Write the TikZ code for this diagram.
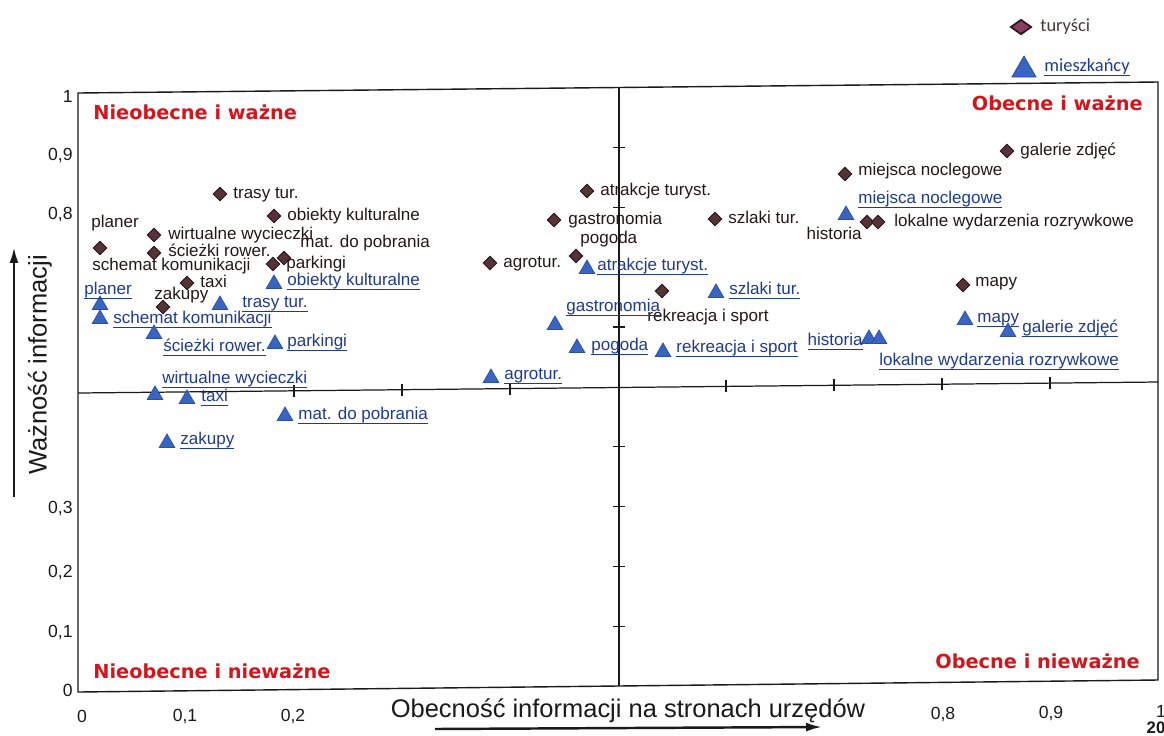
\documentclass[tikz,border=0pt]{standalone}
\usepackage{fontspec}
\setmainfont{Liberation Sans}
\newfontfamily\quadfont{DejaVu Sans}
\newfontfamily\legfont{Carlito}
\usetikzlibrary{shapes.geometric,arrows.meta,calc}

% underlined (link-style) label text
\newsavebox\ulbox
\newcommand\ulink[1]{\sbox\ulbox{#1}\rlap{\rule[-2.3pt]{\wd\ulbox}{0.5pt}}\usebox\ulbox}

\definecolor{turfill}{HTML}{553338}
\definecolor{turdraw}{HTML}{2A181C}
\definecolor{turtext}{HTML}{221818}
\definecolor{legfill}{HTML}{8A3D60}
\definecolor{miefill}{HTML}{3864C2}
\definecolor{miedraw}{HTML}{2A4EA0}
\definecolor{mietext}{HTML}{1F3A93}
\definecolor{quadred}{HTML}{D4151C}
\definecolor{axisgray}{HTML}{1A1A1A}

\tikzset{
  frame/.style={draw=axisgray, line width=0.8pt},
  divider/.style={draw=axisgray, line width=0.7pt},
  tmark/.style={diamond, aspect=1, fill=turfill, draw=turdraw, line width=0.5pt,
    minimum size=0.28cm, inner sep=0pt},
  mmark/.style={regular polygon, regular polygon sides=3, fill=miefill, draw=miedraw,
    line width=0.4pt, minimum size=0.36cm, inner sep=0pt, yshift=-0.04cm},
  lblfont/.style={font=\fontsize{9.7pt}{11pt}\selectfont},
  tlab/.style={lblfont, anchor=mid west, inner sep=0pt, text=turtext},
  mlab/.style={lblfont, anchor=mid west, inner sep=0pt, text=mietext},
  quad/.style={inner sep=0pt, text=quadred, font=\quadfont\bfseries\fontsize{11pt}{13pt}\selectfont},
  ytl/.style={anchor=east, inner sep=0pt, text=axisgray, font=\fontsize{10pt}{12pt}\selectfont},
  xtl/.style={anchor=center, inner sep=0pt, text=axisgray, font=\fontsize{10pt}{12pt}\selectfont},
  axtitle/.style={inner sep=0pt, text=axisgray, font=\fontsize{14.5pt}{17pt}\selectfont},
  axarrow/.style={draw=axisgray, line width=1.4pt, -{Latex[length=9pt,width=5pt]}},
  legtext/.style={inner sep=0pt, anchor=mid west, font=\legfont\fontsize{10.5pt}{12pt}\selectfont}
}

\begin{document}
\begin{tikzpicture}[x=0.02cm,y=-0.02cm]
\useasboundingbox (0,0) rectangle (1164,735);
\fill[white] (0,0) rectangle (1164,735);

% plot frame and quadrant dividers
\coordinate (tl) at (78,93);   \coordinate (tr) at (1158,82);
\coordinate (br) at (1158,680); \coordinate (bl) at (78,692);
\draw[frame] (tl) -- (tr) -- (br) -- (bl) -- cycle;
\coordinate (hl) at (78,393);  \coordinate (hr) at (1158,382);
\coordinate (vt) at (619,87.5); \coordinate (vb) at (619,686);
\draw[divider] (hl) -- (hr);
\draw[divider] (vb) -- (vt);
\foreach \p in {0.2,0.3,0.4,0.6,0.7,0.8,0.9}
  \draw[divider] ($(hl)!\p!(hr)$) ++(0,-6) -- ++(0,12);
\foreach \p in {0.1,0.2,0.3,0.4,0.6,0.8,0.9}
  \draw[divider] ($(vb)!\p!(vt)$) ++(-6,0) -- ++(12,0);

% axis values
\node[ytl] (y10) at (73,96)  {1};
\node[ytl] (y09) at (73,155) {0,9};
\node[ytl] (y08) at (73,214) {0,8};
\node[ytl] (y03) at (73,508) {0,3};
\node[ytl] (y02) at (73,572) {0,2};
\node[ytl] (y01) at (73,632) {0,1};
\node[ytl] (y00) at (73,690) {0};
\node[xtl] (x00) at (82,716)   {0};
\node[xtl] (x01) at (185,716)  {0,1};
\node[xtl] (x02) at (293,716)  {0,2};
\node[xtl] (x08) at (943,714)  {0,8};
\node[xtl] (x09) at (1051,713) {0,9};
\node[xtl] (x10) at (1161,711) {1};
\node[xtl, font=\bfseries\fontsize{9.5pt}{11pt}\selectfont] (pg) at (1156,728) {20};

% axis titles and arrows
\node[axtitle, rotate=90] (ytitle) at (40,365) {Ważność informacji};
\node[axtitle] (xtitle) at (628,711) {Obecność informacji na stronach urzędów};
\coordinate (ya0) at (14,497); \coordinate (ya1) at (14,247);
\draw[axarrow] (ya0) -- (ya1);
\coordinate (xa0) at (435,729); \coordinate (xa1) at (822,727);
\draw[axarrow] (xa0) -- (xa1);

% quadrant names
\node[quad, anchor=mid west] (q1) at (93,115)  {Nieobecne i ważne};
\node[quad, anchor=mid east] (q2) at (1143,106) {Obecne i ważne};
\node[quad, anchor=mid west] (q3) at (93,674)  {Nieobecne i nieważne};
\node[quad, anchor=mid east] (q4) at (1140,664) {Obecne i nieważne};

% legend
\node[diamond, fill=legfill, draw=turdraw, line width=1pt, minimum width=0.42cm,
  minimum height=0.3cm, inner sep=0pt] (legt) at (1021,27) {};
\node[legtext, text=turtext!85] (legtl) at (1040,27) {turyści};
\node[regular polygon, regular polygon sides=3, fill=miefill, draw=miedraw,
  line width=0.4pt, minimum size=0.56cm, inner sep=0pt, yshift=-0.08cm] (legm) at (1024,66) {};
\node[legtext, text=mietext] (legml) at (1044,67) {\ulink{mieszkańcy}};

% tourists (diamonds)
\node[tmark] (t1)  at (100,248) {};
\node[tlab]  at (91,223)  {planer};
\node[tlab]  at (92,266)  {schemat komunikacji};
\node[tmark] (t2)  at (154,235) {};
\node[tlab]  at (168,235) {wirtualne wycieczki};
\node[tmark] (t3)  at (154,253) {};
\node[tlab]  at (168,252) {ścieżki rower.};
\node[tmark] (t4)  at (220,194) {};
\node[tlab]  at (233,194) {trasy tur.};
\node[tmark] (t5)  at (274,216) {};
\node[tlab]  at (287,216) {obiekty kulturalne};
\node[tmark] (t6)  at (284,258) {};
\node[tlab]  at (300,243) {mat. do pobrania};
\node[tmark] (t7)  at (273,264) {};
\node[tlab]  at (286,264) {parkingi};
\node[tmark] (t8)  at (187,283) {};
\node[tlab]  at (200,283) {taxi};
\node[tmark] (t9)  at (163,307) {};
\node[tlab]  at (154,295) {zakupy};
\node[tmark] (t10) at (587,191) {};
\node[tlab]  at (600,191) {atrakcje turyst.};
\node[tmark] (t11) at (554,220) {};
\node[tlab]  at (568,220) {gastronomia};
\node[tmark] (t12) at (576,256) {};
\node[tlab]  at (580,239) {pogoda};
\node[tmark] (t13) at (490,263) {};
\node[tlab]  at (503,263) {agrotur.};
\node[tmark] (t14) at (662,291) {};
\node[tlab]  at (647,317) {rekreacja i sport};
\node[tmark] (t15) at (715,219) {};
\node[tlab]  at (728,219) {szlaki tur.};
\node[tmark] (t16) at (1007,151) {};
\node[tlab]  at (1020,151) {galerie zdjęć};
\node[tmark] (t17) at (845,174) {};
\node[tlab]  at (858,171) {miejsca noclegowe};
\node[tmark] (t18) at (867,222) {};
\node[tlab, anchor=mid east] at (862,235) {historia};
\node[tmark] (t19) at (878,222) {};
\node[tlab]  at (894,222) {lokalne wydarzenia rozrywkowe};
\node[tmark] (t20) at (963,285) {};
\node[tlab]  at (975,282) {mapy};

% residents (triangles)
\node[mmark] (m1)  at (100,303) {};
\node[mlab]  at (84,290)  {\ulink{planer}};
\node[mmark] (m2)  at (100,317) {};
\node[mlab]  at (113,319) {\ulink{schemat komunikacji}};
\node[mmark] (m3)  at (154,332) {};
\node[mlab]  at (163,347) {\ulink{ścieżki rower.}};
\node[mmark] (m4)  at (220,303) {};
\node[mlab]  at (242,303) {\ulink{trasy tur.}};
\node[mmark] (m5)  at (274,282) {};
\node[mlab]  at (287,281) {\ulink{obiekty kulturalne}};
\node[mmark] (m6)  at (275,342) {};
\node[mlab]  at (287,342) {\ulink{parkingi}};
\node[mmark] (m7)  at (155,393) {};
\node[mlab]  at (162,379) {\ulink{wirtualne wycieczki}};
\node[mmark] (m8)  at (187,397) {};
\node[mlab]  at (201,397) {\ulink{taxi}};
\node[mmark] (m9)  at (285,414) {};
\node[mlab]  at (298,415) {\ulink{mat. do pobrania}};
\node[mmark] (m10) at (167,441) {};
\node[mlab]  at (180,440) {\ulink{zakupy}};
\node[mmark] (m11) at (491,376) {};
\node[mlab]  at (504,375) {\ulink{agrotur.}};
\node[mmark] (m12) at (587,267) {};
\node[mlab]  at (597,266) {\ulink{atrakcje turyst.}};
\node[mmark] (m13) at (555,323) {};
\node[mlab]  at (566,307) {\ulink{gastronomia}};
\node[mmark] (m14) at (577,346) {};
\node[mlab]  at (591,346) {\ulink{pogoda}};
\node[mmark] (m15) at (716,291) {};
\node[mlab]  at (729,290) {\ulink{szlaki tur.}};
\node[mmark] (m16) at (663,350) {};
\node[mlab]  at (676,348) {\ulink{rekreacja i sport}};
\node[mmark] (m17) at (869,337) {};
\node[mlab, anchor=mid east] at (863,341) {\ulink{historia}};
\node[mmark] (m18) at (879,337) {};
\node[mlab]  at (879,361) {\ulink{lokalne wydarzenia rozrywkowe}};
\node[mmark] (m19) at (846,213) {};
\node[mlab]  at (858,199) {\ulink{miejsca noclegowe}};
\node[mmark] (m20) at (965,318) {};
\node[mlab]  at (977,318) {\ulink{mapy}};
\node[mmark] (m21) at (1008,330) {};
\node[mlab]  at (1022,328) {\ulink{galerie zdjęć}};
\end{tikzpicture}
\end{document}
